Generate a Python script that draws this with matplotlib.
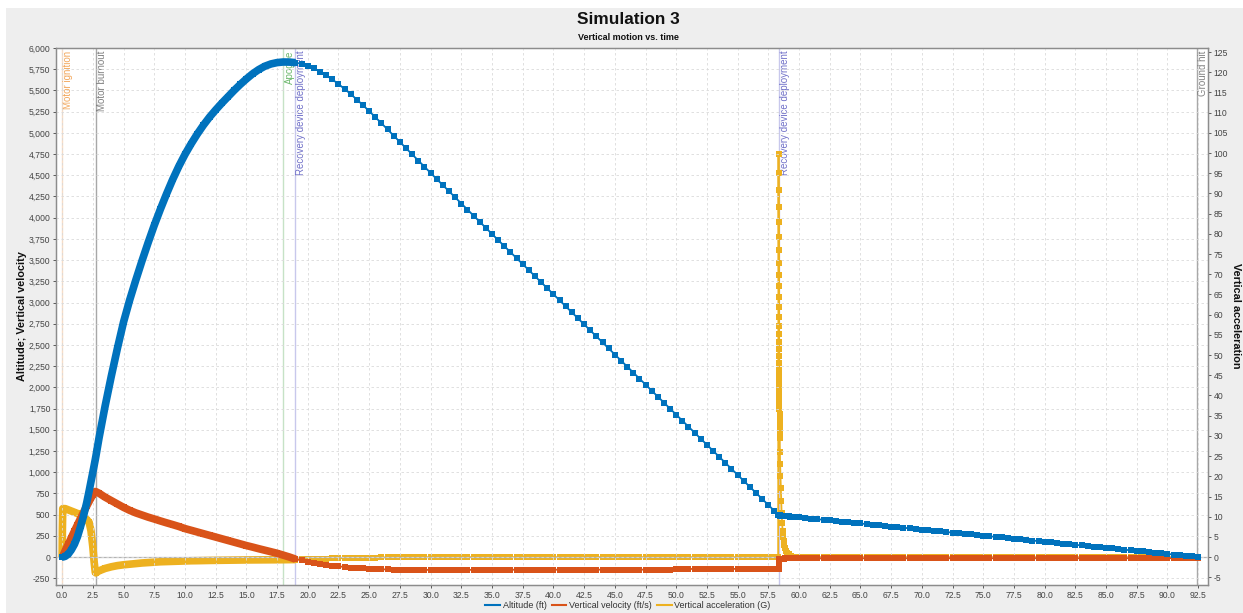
import numpy as np
import matplotlib
matplotlib.use('Agg')
import matplotlib.pyplot as plt
from matplotlib.patches import Rectangle
from matplotlib.lines import Line2D
from matplotlib.ticker import MultipleLocator, FuncFormatter

plt.rcParams['font.family'] = ['Liberation Sans', 'DejaVu Sans']

# --- ascent: burn + coast to drogue deployment (s, ft, ft/s, G) ---
t_asc = [0.0, 0.02, 0.05, 0.25, 0.5, 0.75, 1.0, 1.25, 1.5, 1.75, 2.0, 2.2, 2.35, 2.5, 2.6, 2.7, 2.75,
         3.0, 3.5, 4.0, 4.5, 5.0, 5.5, 6.0, 6.5, 7.0, 7.5, 8.0, 8.5, 9.0, 9.5, 10.0, 10.5,
         11.0, 11.5, 12.0, 12.5, 13.0, 13.5, 14.0, 14.5, 15.0, 15.5, 16.0, 16.5, 17.0, 17.5,
         18.0, 18.5, 19.0]
alt_asc = [0, 0, 0, 8, 35, 85, 150, 240, 360, 490, 640, 780, 890, 1000, 1075, 1150, 1190,
           1400, 1780, 2130, 2460, 2770, 3030, 3265, 3490, 3705, 3910, 4100, 4280, 4450, 4605,
           4745, 4870, 4985, 5090, 5185, 5270, 5350, 5425, 5500, 5570, 5635, 5695, 5745, 5785,
           5812, 5828, 5835, 5834, 5827]
vel_asc = [0, 2, 8, 75, 150, 228, 305, 380, 455, 530, 600, 655, 695, 735, 760, 772, 770,
           752, 705, 665, 625, 585, 550, 520, 495, 470, 448, 425, 403, 382, 360,
           335, 315, 295, 275, 255, 235, 215, 195, 175, 155, 135, 117, 98, 80,
           62, 44, 22, 0, -25]
acc_asc = [0.0, 6.8, 12.0, 12.0, 11.7, 11.4, 11.1, 10.8, 10.4, 9.9, 9.3, 8.6, 6.5, 2.5, -1.0, -3.8, -3.9,
           -3.4, -2.8, -2.4, -2.1, -1.9, -1.75, -1.6, -1.45, -1.35, -1.25, -1.15, -1.1, -1.05, -1.0,
           -0.95, -0.9, -0.88, -0.85, -0.82, -0.8, -0.78, -0.76, -0.74, -0.72, -0.7, -0.69, -0.68, -0.67,
           -0.66, -0.65, -0.64, -0.62, -0.6]

# --- descent under drogue, 0.5 s steps from 19.5 to 58.0 ---
t_drogue = np.arange(19.5, 58.01, 0.5)
alt_drogue = [5815, 5790, 5760, 5722, 5678, 5629, 5575, 5517, 5456, 5392,
              5325, 5256, 5185, 5113, 5040, 4966, 4892, 4819, 4746, 4673,
              4600, 4527, 4455, 4383, 4311, 4239, 4167, 4095, 4023, 3951,
              3879, 3807, 3736, 3665, 3594, 3523, 3452, 3381, 3310, 3239,
              3168, 3097, 3026, 2955, 2884, 2813, 2742, 2671, 2600, 2529,
              2458, 2387, 2316, 2245, 2174, 2103, 2032, 1961, 1890, 1819,
              1748, 1677, 1606, 1535, 1464, 1393, 1322, 1251, 1180, 1109,
              1038, 967, 896, 825, 754, 683, 612, 541]
vel_drogue = [-40, -55, -68, -80, -91, -101, -110, -118, -125, -130,
              -135, -139, -142, -145, -147, -148, -149, -150, -151, -151,
              -152, -152, -152, -152, -152, -152, -151, -151, -151, -151,
              -151, -151, -151, -150, -150, -150, -150, -150, -150, -150,
              -150, -150, -150, -150, -150, -149, -149, -149, -149, -149,
              -149, -149, -149, -149, -149, -149, -149, -148, -148, -148,
              -148, -142, -141, -141, -141, -141, -141, -141, -140, -140,
              -140, -140, -140, -140, -140, -139, -139, -139]
acc_drogue = [-0.5, -0.45, -0.42, -0.38, -0.35, -0.31, -0.28, -0.25, -0.21, -0.18,
              -0.15, -0.12, -0.1, -0.08, -0.06, -0.05, -0.04, -0.03, -0.02, -0.02,
              -0.01, -0.01, -0.01, 0.0, 0.0, 0.0, 0.0, 0.0, 0.0, 0.0,
              0.0, 0.0, 0.0, 0.0, 0.0, 0.0, 0.0, 0.0, 0.0, 0.0,
              0.0, 0.0, 0.0, 0.0, 0.0, 0.0, 0.0, 0.0, 0.0, 0.0,
              0.0, 0.0, 0.0, 0.0, 0.0, 0.0, 0.0, 0.0, 0.0, 0.0,
              0.0, 0.02, 0.0, 0.0, 0.0, 0.0, 0.0, 0.0, 0.0, 0.0,
              0.0, 0.0, 0.0, 0.0, 0.0, 0.0, 0.0, 0.0]

# --- main parachute deployment transient ---
t_dep = [58.300,
         58.330, 58.333, 58.336, 58.339, 58.342, 58.345, 58.348, 58.351, 58.354, 58.357,
         58.360, 58.363, 58.366, 58.369, 58.372, 58.375, 58.378, 58.381, 58.384, 58.387,
         58.390, 58.393, 58.396, 58.399, 58.402, 58.405, 58.408, 58.411, 58.414, 58.417,
         58.420, 58.423, 58.426,
         58.44, 58.46, 58.49, 58.52, 58.55, 58.58, 58.62, 58.66, 58.70, 58.75,
         58.80, 58.87, 58.95, 59.05, 59.15, 59.25, 59.35, 59.45]
alt_dep = [498,
           494, 494, 494, 494, 494, 493, 493, 493, 493, 493,
           493, 493, 492, 492, 492, 492, 492, 492, 492, 491,
           491, 491, 491, 491, 491, 491, 490, 490, 490, 490,
           490, 490, 490,
           490, 489, 489, 488, 488, 487, 487, 486, 486, 485,
           484, 483, 482, 480, 478, 477, 475, 474]
vel_dep = [-139,
           -139, -132, -124, -116, -108, -100, -93, -86, -79, -72,
           -66, -60, -55, -50, -45, -41, -37, -34, -31, -29,
           -27, -26, -25, -24, -24, -23, -23, -22, -22, -22,
           -21, -21, -21,
           -21, -20, -20, -20, -19, -19, -19, -18, -18, -18,
           -18, -17, -17, -17, -17, -17, -17, -17]
acc_dep = [0.0,
           99.7, 95.1, 90.8, 86.7, 82.9, 79.3, 75.9, 72.7, 69.8, 67.0,
           64.4, 61.9, 59.5, 57.3, 55.2, 53.3, 51.4, 49.7, 48.0, 46.4,
           44.8, 43.3, 41.9, 40.5, 39.2, 37.9, 36.6, 35.4, 34.2, 33.0,
           31.8, 30.6, 29.5,
           26.0, 23.0, 20.0, 17.0, 14.0, 11.0, 8.5, 6.5, 5.0, 4.0,
           3.0, 2.2, 1.6, 1.1, 0.7, 0.4, 0.2, 0.1]

# --- descent under main, 0.5 s steps from 59.5 to 92.5 ---
t_main = np.arange(59.5, 92.51, 0.5)
alt_main = [473, 467, 460, 453, 445, 438, 431, 424, 417, 410,
            402, 395, 388, 381, 374, 367, 359, 352, 345, 338,
            331, 323, 316, 309, 302, 295, 288, 280, 273, 266,
            259, 252, 244, 237, 230, 223, 216, 209, 201, 194,
            187, 180, 173, 165, 158, 151, 144, 137, 129, 122,
            115, 108, 101, 93, 86, 79, 72, 65, 57, 50,
            43, 36, 29, 22, 14, 7, 0]
vel_main = [-17, -16, -16, -16, -16, -16, -16, -16, -15, -15,
            -15, -15, -15, -15, -15, -15, -15, -15, -15, -15,
            -15, -15, -15, -15, -15, -15, -15, -15, -15, -15,
            -15, -15, -15, -15, -15, -15, -15, -15, -15, -15,
            -15, -15, -15, -15, -15, -15, -15, -15, -15, -15,
            -14, -14, -14, -14, -14, -14, -14, -14, -14, -14,
            -14, -14, -14, -14, -14, -14, -14]
acc_main = [0.05, 0.04, 0.03, 0.02, 0.02, 0.01, 0.01, 0.0, 0.0, 0.0,
            0.0, 0.0, 0.0, 0.0, 0.0, 0.0, 0.0, 0.0, 0.0, 0.0,
            0.0, 0.0, 0.0, 0.0, 0.0, 0.0, 0.0, 0.0, 0.0, 0.0,
            0.0, 0.0, 0.0, 0.0, 0.0, 0.0, 0.0, 0.0, 0.0, 0.0,
            0.0, 0.0, 0.0, 0.0, 0.0, 0.0, 0.0, 0.0, 0.0, 0.0,
            0.0, 0.0, 0.0, 0.0, 0.0, 0.0, 0.0, 0.0, 0.0, 0.0,
            0.0, 0.0, 0.0, 0.0, 0.0, 0.0, 0.0]

# flight events
event_times = [0.0, 2.74, 18.02, 18.95, 58.39, 92.4]
event_labels = ['Motor ignition', 'Motor burnout', 'Apogee', 'Recovery device deployment',
                'Recovery device deployment', 'Ground hit']
event_line_colors = ['#f8dcc6', '#a8a8a8', '#c6e2c6', '#c8c8ec', '#c8c8ec', '#a8a8a8']
event_text_colors = ['#f2a65a', '#808080', '#6cb86c', '#7070c8', '#7070c8', '#808080']

series_labels = ['Altitude (ft)', 'Vertical velocity (ft/s)', 'Vertical acceleration (G)']
BLUE, RED, YELLOW = '#0072BD', '#D95319', '#EDB120'

t = np.concatenate([t_asc, t_drogue, t_dep, t_main])
alt = np.concatenate([alt_asc, alt_drogue, alt_dep, alt_main])
vel = np.concatenate([vel_asc, vel_drogue, vel_dep, vel_main])
acc = np.concatenate([acc_asc, acc_drogue, acc_dep, acc_main])

W, H = 1243, 613
fig = plt.figure(figsize=(W / 100, H / 100), dpi=100, facecolor='white')
fig.add_artist(Rectangle((6 / W, 0), 1, 1 - 8 / H, transform=fig.transFigure,
                         facecolor='#eeeeee', edgecolor='none', zorder=-10))

ax = fig.add_axes([56 / W, 1 - 585 / H, (1208 - 56) / W, (585 - 48) / H])
ax2 = ax.twinx()
ax.set_zorder(ax2.get_zorder() + 1)
ax.patch.set_visible(False)
ax2.patch.set_facecolor('white')
ax2.patch.set_visible(True)

mk = dict(marker='s', markersize=4.3, markeredgewidth=0)

# acceleration on right axis (drawn underneath)
ax2.plot(t, acc, color=YELLOW, lw=1.3, zorder=3, **mk)
ax2.plot(t_asc, acc_asc, color=YELLOW, lw=5.5, zorder=3, solid_capstyle='butt')

# flight events
for et, lab, lc, tc in zip(event_times, event_labels, event_line_colors, event_text_colors):
    ax2.axvline(et, color=lc, lw=1.0, zorder=1)
    ax2.annotate(lab, xy=(et, 1), xycoords=('data', 'axes fraction'), xytext=(0.8, -2),
                 textcoords='offset points', rotation=90, ha='left', va='top',
                 fontsize=7, color=tc, zorder=2)

ax.axhline(0, color='#b4b4b4', lw=0.9, zorder=1)
ax.plot(t, vel, color=RED, lw=1.3, zorder=3, **mk)
ax.plot(t_asc, vel_asc, color=RED, lw=5.5, zorder=3, solid_capstyle='butt')
ax.plot(t, alt, color=BLUE, lw=1.3, zorder=4, **mk)
ax.plot(t_asc, alt_asc, color=BLUE, lw=5.5, zorder=4, solid_capstyle='butt')

ax.set_xlim(-0.5, 93.3)
ax.set_ylim(-330, 6000)
ax2.set_ylim(-6.9, 126)

ax.xaxis.set_major_locator(MultipleLocator(2.5))
ax.yaxis.set_major_locator(MultipleLocator(250))
ax2.yaxis.set_major_locator(MultipleLocator(5))
ax.xaxis.set_major_formatter(FuncFormatter(lambda v, p: f'{v:.1f}'))
ax.yaxis.set_major_formatter(FuncFormatter(lambda v, p: f'{v:,.0f}'))
ax2.yaxis.set_major_formatter(FuncFormatter(lambda v, p: f'{v:.0f}'))

ax.grid(True, color='#dadada', lw=0.6, linestyle=(0, (3, 3)))
for a in (ax, ax2):
    a.tick_params(labelsize=6.2, colors='#444444', length=2, width=0.6, pad=2)
    for s in a.spines.values():
        s.set_color('#8c8c8c')
        s.set_linewidth(0.9)

fig.text(628 / W, 1 - 20 / H, 'Simulation 3', ha='center', va='center',
         fontsize=12.4, fontweight='bold', color='#111111')
fig.text(628 / W, 1 - 37 / H, 'Vertical motion vs. time', ha='center', va='center',
         fontsize=6.5, fontweight='bold', color='#111111')
fig.text(22.5 / W, 1 - 316 / H, 'Altitude; Vertical velocity', rotation=90,
         ha='center', va='center', fontsize=7.8, fontweight='bold', color='#111111')
fig.text(1236 / W, 1 - 316 / H, 'Vertical acceleration', rotation=270,
         ha='center', va='center', fontsize=7.8, fontweight='bold', color='#111111')

handles = [Line2D([], [], color=c, lw=1.5) for c in (BLUE, RED, YELLOW)]
fig.legend(handles, series_labels, loc='center', bbox_to_anchor=(628 / W, 1 - 606 / H),
           ncol=3, frameon=False, fontsize=6.5, handlelength=1.6, handletextpad=0.3,
           columnspacing=0.6, labelcolor='#333333')

fig.savefig('out.png', dpi=100, facecolor=fig.get_facecolor())
